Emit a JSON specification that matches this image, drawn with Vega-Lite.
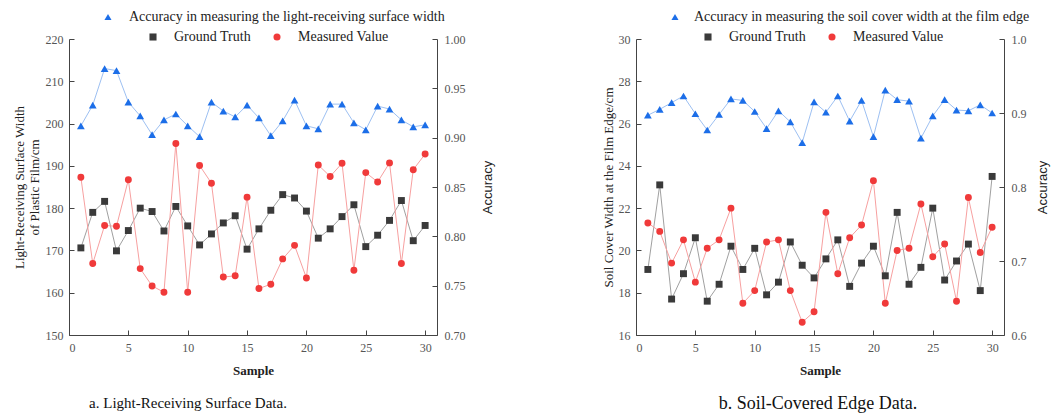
{
  "$schema": "https://vega.github.io/schema/vega-lite/v6.json",
  "background": "white",
  "padding": {"left": 13, "top": 10, "right": 4, "bottom": 4},
  "spacing": 108,
  "config": {
    "view": {"stroke": null},
    "axis": {"grid": false, "domainColor": "#444444", "tickColor": "#444444", "tickSize": -5, "labelColor": "#555555", "labelFont": "Liberation Serif", "labelFontSize": 12, "labelPadding": 12, "titleFont": "Liberation Serif", "titleFontSize": 13, "titleFontWeight": "normal", "titleColor": "#222222"},
    "legend": {"labelFont": "Liberation Serif", "labelFontSize": 14, "labelColor": "#222222", "symbolSize": 50, "symbolOpacity": 1, "labelLimit": 500, "title": null},
    "title": {"font": "Liberation Serif", "fontSize": 15, "fontWeight": "normal", "color": "#111111"}
  },
  "datasets": {
    "surface": [
      {"sample":1,"series":"Ground Truth","value":170.6},{"sample":2,"series":"Ground Truth","value":179.0},{"sample":3,"series":"Ground Truth","value":181.6},{"sample":4,"series":"Ground Truth","value":169.9},{"sample":5,"series":"Ground Truth","value":174.7},{"sample":6,"series":"Ground Truth","value":180.0},{"sample":7,"series":"Ground Truth","value":179.2},{"sample":8,"series":"Ground Truth","value":174.6},{"sample":9,"series":"Ground Truth","value":180.4},{"sample":10,"series":"Ground Truth","value":175.8},
      {"sample":11,"series":"Ground Truth","value":171.3},{"sample":12,"series":"Ground Truth","value":173.9},{"sample":13,"series":"Ground Truth","value":176.5},{"sample":14,"series":"Ground Truth","value":178.2},{"sample":15,"series":"Ground Truth","value":170.3},{"sample":16,"series":"Ground Truth","value":175.1},{"sample":17,"series":"Ground Truth","value":179.5},{"sample":18,"series":"Ground Truth","value":183.2},{"sample":19,"series":"Ground Truth","value":182.4},{"sample":20,"series":"Ground Truth","value":179.3},
      {"sample":21,"series":"Ground Truth","value":172.9},{"sample":22,"series":"Ground Truth","value":175.1},{"sample":23,"series":"Ground Truth","value":178.0},{"sample":24,"series":"Ground Truth","value":180.8},{"sample":25,"series":"Ground Truth","value":170.9},{"sample":26,"series":"Ground Truth","value":173.6},{"sample":27,"series":"Ground Truth","value":177.1},{"sample":28,"series":"Ground Truth","value":181.8},{"sample":29,"series":"Ground Truth","value":172.3},{"sample":30,"series":"Ground Truth","value":175.9},
      {"sample":1,"series":"Measured Value","value":187.3},{"sample":2,"series":"Measured Value","value":166.9},{"sample":3,"series":"Measured Value","value":175.9},{"sample":4,"series":"Measured Value","value":175.7},{"sample":5,"series":"Measured Value","value":186.7},{"sample":6,"series":"Measured Value","value":165.7},{"sample":7,"series":"Measured Value","value":161.6},{"sample":8,"series":"Measured Value","value":160.1},{"sample":9,"series":"Measured Value","value":195.3},{"sample":10,"series":"Measured Value","value":160.1},
      {"sample":11,"series":"Measured Value","value":190.1},{"sample":12,"series":"Measured Value","value":185.9},{"sample":13,"series":"Measured Value","value":163.7},{"sample":14,"series":"Measured Value","value":164.0},{"sample":15,"series":"Measured Value","value":182.6},{"sample":16,"series":"Measured Value","value":161.0},{"sample":17,"series":"Measured Value","value":162.0},{"sample":18,"series":"Measured Value","value":168.0},{"sample":19,"series":"Measured Value","value":171.2},{"sample":20,"series":"Measured Value","value":163.5},
      {"sample":21,"series":"Measured Value","value":190.2},{"sample":22,"series":"Measured Value","value":187.5},{"sample":23,"series":"Measured Value","value":190.6},{"sample":24,"series":"Measured Value","value":165.3},{"sample":25,"series":"Measured Value","value":188.4},{"sample":26,"series":"Measured Value","value":186.2},{"sample":27,"series":"Measured Value","value":190.7},{"sample":28,"series":"Measured Value","value":166.9},{"sample":29,"series":"Measured Value","value":189.1},{"sample":30,"series":"Measured Value","value":192.8},
      {"sample":1,"series":"Accuracy","value":0.912},{"sample":2,"series":"Accuracy","value":0.933},{"sample":3,"series":"Accuracy","value":0.970},{"sample":4,"series":"Accuracy","value":0.968},{"sample":5,"series":"Accuracy","value":0.936},{"sample":6,"series":"Accuracy","value":0.922},{"sample":7,"series":"Accuracy","value":0.903},{"sample":8,"series":"Accuracy","value":0.918},{"sample":9,"series":"Accuracy","value":0.924},{"sample":10,"series":"Accuracy","value":0.912},
      {"sample":11,"series":"Accuracy","value":0.901},{"sample":12,"series":"Accuracy","value":0.936},{"sample":13,"series":"Accuracy","value":0.927},{"sample":14,"series":"Accuracy","value":0.921},{"sample":15,"series":"Accuracy","value":0.933},{"sample":16,"series":"Accuracy","value":0.920},{"sample":17,"series":"Accuracy","value":0.902},{"sample":18,"series":"Accuracy","value":0.917},{"sample":19,"series":"Accuracy","value":0.938},{"sample":20,"series":"Accuracy","value":0.912},
      {"sample":21,"series":"Accuracy","value":0.909},{"sample":22,"series":"Accuracy","value":0.934},{"sample":23,"series":"Accuracy","value":0.934},{"sample":24,"series":"Accuracy","value":0.915},{"sample":25,"series":"Accuracy","value":0.908},{"sample":26,"series":"Accuracy","value":0.932},{"sample":27,"series":"Accuracy","value":0.929},{"sample":28,"series":"Accuracy","value":0.918},{"sample":29,"series":"Accuracy","value":0.911},{"sample":30,"series":"Accuracy","value":0.913}
    ],
    "edge": [
      {"sample":1,"series":"Ground Truth","value":19.1},{"sample":2,"series":"Ground Truth","value":23.1},{"sample":3,"series":"Ground Truth","value":17.7},{"sample":4,"series":"Ground Truth","value":18.9},{"sample":5,"series":"Ground Truth","value":20.6},{"sample":6,"series":"Ground Truth","value":17.6},{"sample":7,"series":"Ground Truth","value":18.4},{"sample":8,"series":"Ground Truth","value":20.2},{"sample":9,"series":"Ground Truth","value":19.1},{"sample":10,"series":"Ground Truth","value":20.1},
      {"sample":11,"series":"Ground Truth","value":17.9},{"sample":12,"series":"Ground Truth","value":18.5},{"sample":13,"series":"Ground Truth","value":20.4},{"sample":14,"series":"Ground Truth","value":19.3},{"sample":15,"series":"Ground Truth","value":18.7},{"sample":16,"series":"Ground Truth","value":19.6},{"sample":17,"series":"Ground Truth","value":20.5},{"sample":18,"series":"Ground Truth","value":18.3},{"sample":19,"series":"Ground Truth","value":19.4},{"sample":20,"series":"Ground Truth","value":20.2},
      {"sample":21,"series":"Ground Truth","value":18.8},{"sample":22,"series":"Ground Truth","value":21.8},{"sample":23,"series":"Ground Truth","value":18.4},{"sample":24,"series":"Ground Truth","value":19.2},{"sample":25,"series":"Ground Truth","value":22.0},{"sample":26,"series":"Ground Truth","value":18.6},{"sample":27,"series":"Ground Truth","value":19.5},{"sample":28,"series":"Ground Truth","value":20.3},{"sample":29,"series":"Ground Truth","value":18.1},{"sample":30,"series":"Ground Truth","value":23.5},
      {"sample":1,"series":"Measured Value","value":21.3},{"sample":2,"series":"Measured Value","value":20.9},{"sample":3,"series":"Measured Value","value":19.4},{"sample":4,"series":"Measured Value","value":20.5},{"sample":5,"series":"Measured Value","value":18.5},{"sample":6,"series":"Measured Value","value":20.1},{"sample":7,"series":"Measured Value","value":20.5},{"sample":8,"series":"Measured Value","value":22.0},{"sample":9,"series":"Measured Value","value":17.5},{"sample":10,"series":"Measured Value","value":18.1},
      {"sample":11,"series":"Measured Value","value":20.4},{"sample":12,"series":"Measured Value","value":20.5},{"sample":13,"series":"Measured Value","value":18.1},{"sample":14,"series":"Measured Value","value":16.6},{"sample":15,"series":"Measured Value","value":17.1},{"sample":16,"series":"Measured Value","value":21.8},{"sample":17,"series":"Measured Value","value":18.9},{"sample":18,"series":"Measured Value","value":20.6},{"sample":19,"series":"Measured Value","value":21.2},{"sample":20,"series":"Measured Value","value":23.3},
      {"sample":21,"series":"Measured Value","value":17.5},{"sample":22,"series":"Measured Value","value":20.0},{"sample":23,"series":"Measured Value","value":20.1},{"sample":24,"series":"Measured Value","value":22.2},{"sample":25,"series":"Measured Value","value":19.7},{"sample":26,"series":"Measured Value","value":20.3},{"sample":27,"series":"Measured Value","value":17.6},{"sample":28,"series":"Measured Value","value":22.5},{"sample":29,"series":"Measured Value","value":19.9},{"sample":30,"series":"Measured Value","value":21.1},
      {"sample":1,"series":"Accuracy","value":0.897},{"sample":2,"series":"Accuracy","value":0.905},{"sample":3,"series":"Accuracy","value":0.914},{"sample":4,"series":"Accuracy","value":0.923},{"sample":5,"series":"Accuracy","value":0.899},{"sample":6,"series":"Accuracy","value":0.877},{"sample":7,"series":"Accuracy","value":0.898},{"sample":8,"series":"Accuracy","value":0.919},{"sample":9,"series":"Accuracy","value":0.917},{"sample":10,"series":"Accuracy","value":0.902},
      {"sample":11,"series":"Accuracy","value":0.879},{"sample":12,"series":"Accuracy","value":0.903},{"sample":13,"series":"Accuracy","value":0.888},{"sample":14,"series":"Accuracy","value":0.860},{"sample":15,"series":"Accuracy","value":0.915},{"sample":16,"series":"Accuracy","value":0.901},{"sample":17,"series":"Accuracy","value":0.923},{"sample":18,"series":"Accuracy","value":0.889},{"sample":19,"series":"Accuracy","value":0.917},{"sample":20,"series":"Accuracy","value":0.868},
      {"sample":21,"series":"Accuracy","value":0.931},{"sample":22,"series":"Accuracy","value":0.918},{"sample":23,"series":"Accuracy","value":0.916},{"sample":24,"series":"Accuracy","value":0.866},{"sample":25,"series":"Accuracy","value":0.896},{"sample":26,"series":"Accuracy","value":0.918},{"sample":27,"series":"Accuracy","value":0.904},{"sample":28,"series":"Accuracy","value":0.903},{"sample":29,"series":"Accuracy","value":0.911},{"sample":30,"series":"Accuracy","value":0.900}
    ]
  },
  "hconcat": [
    {
      "width": 368,
      "height": 296,
      "data": {"name": "surface"},
      "title": {"text": "a. Light-Receiving Surface Data.", "orient": "bottom", "frame": "group", "anchor": "middle", "dx": -65, "offset": 19},
      "encoding": {
        "x": {"field": "sample", "type": "quantitative", "scale": {"domain": [0, 31], "nice": false, "zero": false}, "axis": {"values": [0, 5, 10, 15, 20, 25, 30], "title": "Sample", "titleFontWeight": "bold", "titlePadding": 11}}
      },
      "layer": [
        {
          "transform": [{"filter": "datum.series !== 'Accuracy'"}],
          "encoding": {
            "y": {"field": "value", "type": "quantitative", "scale": {"domain": [150, 220], "nice": false, "zero": false}, "axis": {"values": [150, 160, 170, 180, 190, 200, 210, 220], "title": ["Light-Receiving Surface Width", "of Plastic Film/cm"], "titlePadding": 4, "titleLineHeight": 15, "labelPadding": 11}}
          },
          "layer": [
            {"transform": [{"filter": "datum.series === 'Ground Truth'"}], "mark": {"type": "line", "strokeWidth": 1, "color": "#a0a0a0"}},
            {"transform": [{"filter": "datum.series === 'Measured Value'"}], "mark": {"type": "line", "strokeWidth": 1, "color": "#f7a0a0"}},
            {"mark": {"type": "point", "filled": true, "size": 48, "opacity": 1},
             "encoding": {
               "color": {"field": "series", "type": "nominal", "scale": {"domain": ["Ground Truth", "Measured Value"], "range": ["#3a3a3a", "#f03a3a"]},
                 "legend": {"orient": "none", "legendX": 77, "legendY": -9, "direction": "horizontal", "columns": 2, "columnPadding": 19, "labelOffset": 14}},
               "shape": {"field": "series", "type": "nominal", "scale": {"domain": ["Ground Truth", "Measured Value"], "range": ["square", "circle"]}}}}
          ]
        },
        {
          "transform": [{"filter": "datum.series === 'Accuracy'"}],
          "encoding": {
            "y": {"field": "value", "type": "quantitative", "scale": {"domain": [0.7, 1.0], "nice": false, "zero": false}, "axis": {"orient": "right", "values": [0.7, 0.75, 0.8, 0.85, 0.9, 0.95, 1.0], "format": ".2f", "title": "Accuracy", "titleFont": "Liberation Sans", "titleFontSize": 13, "titleAngle": 270, "titleBaseline": "top", "titlePadding": 16}}
          },
          "layer": [
            {"mark": {"type": "line", "strokeWidth": 1, "color": "#9dc0f2"}},
            {"mark": {"type": "point", "filled": true, "shape": "triangle-up", "size": 60, "opacity": 1},
             "encoding": {
               "color": {"field": "series", "type": "nominal", "scale": {"domain": ["Accuracy"], "range": ["#1c6ee8"]},
                 "legend": {"orient": "none", "legendX": 32, "legendY": -29, "labelOffset": 14, "symbolType": "triangle-up", "labelExpr": "'Accuracy in measuring the light-receiving surface width'"}}}}
          ]
        }
      ],
      "resolve": {"scale": {"y": "independent", "color": "independent", "shape": "independent"}}
    },
    {
      "width": 368,
      "height": 296,
      "data": {"name": "edge"},
      "title": {"text": "b. Soil-Covered Edge Data.", "orient": "bottom", "frame": "group", "anchor": "middle", "dx": -2, "offset": 18, "fontSize": 18},
      "encoding": {
        "x": {"field": "sample", "type": "quantitative", "scale": {"domain": [0, 31], "nice": false, "zero": false}, "axis": {"values": [0, 5, 10, 15, 20, 25, 30], "title": "Sample", "titleFontWeight": "bold", "titlePadding": 11}}
      },
      "layer": [
        {
          "transform": [{"filter": "datum.series !== 'Accuracy'"}],
          "encoding": {
            "y": {"field": "value", "type": "quantitative", "scale": {"domain": [16, 30], "nice": false, "zero": false}, "axis": {"values": [16, 18, 20, 22, 24, 26, 28, 30], "title": "Soil Cover Width at the Film Edge/cm", "titlePadding": 3, "labelPadding": 11}}
          },
          "layer": [
            {"transform": [{"filter": "datum.series === 'Ground Truth'"}], "mark": {"type": "line", "strokeWidth": 1, "color": "#a0a0a0"}},
            {"transform": [{"filter": "datum.series === 'Measured Value'"}], "mark": {"type": "line", "strokeWidth": 1, "color": "#f7a0a0"}},
            {"mark": {"type": "point", "filled": true, "size": 48, "opacity": 1},
             "encoding": {
               "color": {"field": "series", "type": "nominal", "scale": {"domain": ["Ground Truth", "Measured Value"], "range": ["#3a3a3a", "#f03a3a"]},
                 "legend": {"orient": "none", "legendX": 65, "legendY": -9, "direction": "horizontal", "columns": 2, "columnPadding": 19, "labelOffset": 14}},
               "shape": {"field": "series", "type": "nominal", "scale": {"domain": ["Ground Truth", "Measured Value"], "range": ["square", "circle"]}}}}
          ]
        },
        {
          "transform": [{"filter": "datum.series === 'Accuracy'"}],
          "encoding": {
            "y": {"field": "value", "type": "quantitative", "scale": {"domain": [0.6, 1.0], "nice": false, "zero": false}, "axis": {"orient": "right", "values": [0.6, 0.7, 0.8, 0.9, 1.0], "format": ".1f", "title": "Accuracy", "titleFont": "Liberation Sans", "titleFontSize": 13, "titleAngle": 270, "titleBaseline": "top", "titlePadding": 10}}
          },
          "layer": [
            {"mark": {"type": "line", "strokeWidth": 1, "color": "#9dc0f2"}},
            {"mark": {"type": "point", "filled": true, "shape": "triangle-up", "size": 60, "opacity": 1},
             "encoding": {
               "color": {"field": "series", "type": "nominal", "scale": {"domain": ["Accuracy"], "range": ["#1c6ee8"]},
                 "legend": {"orient": "none", "legendX": 32, "legendY": -29, "labelOffset": 12, "symbolType": "triangle-up", "labelExpr": "'Accuracy in measuring the soil cover width at the film edge'"}}}}
          ]
        }
      ],
      "resolve": {"scale": {"y": "independent", "color": "independent", "shape": "independent"}}
    }
  ]
}
